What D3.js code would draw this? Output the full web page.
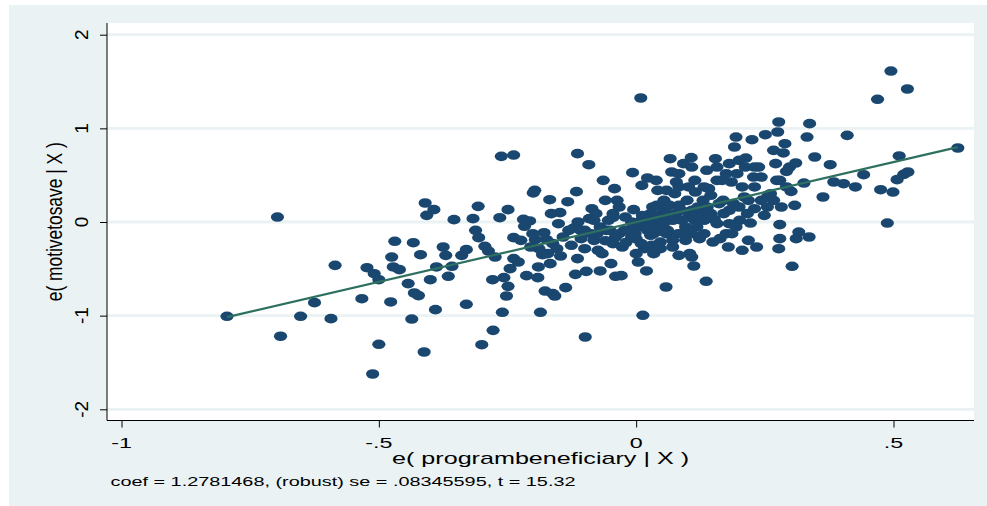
<!DOCTYPE html>
<html>
<head>
<meta charset="utf-8">
<script src="https://cdn.jsdelivr.net/npm/d3@7"></script>
<style>
  body { margin: 0; background: #ffffff; }
  text { font-family: "Liberation Sans", Arial, sans-serif; fill: #000; }
</style>
</head>
<body>
<div id="scatter"></div>
<script>
// residuals of programbeneficiary (x) and motivetosave (y)
var xVals = [
  -0.795, -0.697, -0.691, -0.652, -0.625, -0.593, -0.585, -0.533, -0.523, -0.509,
  -0.500, -0.500, -0.512, -0.475, -0.472, -0.460, -0.469, -0.477, -0.443, -0.433,
  -0.431, -0.423, -0.436, -0.419, -0.410, -0.407, -0.393, -0.412, -0.390, -0.400,
  -0.388, -0.375, -0.370, -0.365, -0.358, -0.354, -0.339, -0.330, -0.330, -0.317,
  -0.312, -0.307, -0.306, -0.294, -0.287, -0.279, -0.278, -0.300, -0.274, -0.265,
  -0.262, -0.238, -0.260, -0.257, -0.252, -0.249, -0.249, -0.245, -0.238, -0.238,
  -0.229, -0.224, -0.219, -0.217, -0.213, -0.207, -0.205, -0.200, -0.197, -0.196,
  -0.191, -0.190, -0.186, -0.182, -0.179, -0.177, -0.174, -0.168, -0.167, -0.165,
  -0.162, -0.158, -0.154, -0.151, -0.148, -0.147, -0.142, -0.137, -0.133, -0.131,
  -0.126, -0.121, -0.118, -0.116, -0.114, -0.114, -0.113, -0.108, -0.100, -0.099,
  -0.097, -0.092, -0.091, -0.086, -0.082, -0.078, -0.074, -0.070, -0.066, -0.064,
  -0.060, -0.058, -0.054, -0.049, -0.045, -0.042, -0.040, -0.037, -0.033, -0.029,
  -0.027, -0.023, -0.007, -0.005, -0.002, 0.000, 0.004, 0.009, 0.013, 0.011,
  0.016, 0.020, 0.022, 0.028, 0.032, 0.034, 0.039, 0.042, 0.047, 0.050,
  0.054, 0.058, 0.061, 0.064, 0.066, 0.069, 0.071, 0.075, 0.078, 0.082,
  0.083, 0.088, 0.092, 0.096, 0.099, 0.104, 0.107, 0.108, 0.112, 0.115,
  0.118, 0.123, 0.126, 0.130, 0.136, 0.137, 0.141, 0.145, 0.149, 0.152,
  0.154, 0.157, 0.161, 0.163, 0.167, 0.170, 0.175, 0.179, 0.181, 0.185,
  0.186, 0.189, 0.191, 0.194, 0.196, 0.201, 0.206, 0.210, 0.213, 0.216,
  0.218, 0.222, 0.225, 0.228, 0.230, 0.234, 0.238, 0.243, 0.249, 0.251,
  0.255, 0.261, 0.267, 0.271, 0.275, 0.277, 0.279, 0.277, 0.279, 0.279,
  0.282, 0.286, 0.289, 0.292, 0.298, 0.301, 0.303, 0.308, 0.310, 0.311,
  0.316, 0.326, 0.332, 0.337, 0.336, 0.347, 0.363, 0.377, 0.384, 0.403,
  0.410, 0.426, 0.442, 0.469, 0.475, 0.488, 0.495, 0.499, 0.507, 0.511,
  0.520, 0.527, 0.528, 0.625,
  -0.015, -0.009, 0.004, 0.010, 0.022, 0.028, 0.040, 0.044, 0.053, 0.056,
  0.065, 0.071, 0.077, 0.083, 0.089, 0.093, 0.102, 0.108, 0.114, 0.120,
  0.123, 0.132, 0.138, 0.145, 0.028, 0.040, 0.059, 0.071, 0.096, 0.047,
  0.034, 0.010, -0.009, -0.021, -0.045, -0.051, -0.076, -0.070, -0.088, -0.100,
  -0.107, -0.082, -0.033, 0.169, 0.181, 0.200, 0.218, 0.206, 0.230, 0.243,
  0.255, 0.157, 0.181, 0.194, 0.132, 0.108, 0.267, 0.273, 0.292, 0.230,
  0.175, 0.200, 0.212, 0.157, 0.114, 0.102, 0.083, 0.059, 0.083, 0.108,
  0.132, -0.189, -0.172, -0.162, -0.201,
  -0.040, -0.020, 0.000, 0.030, -0.060, 0.050, 0.020, -0.045, 0.012
];
var yVals = [
  -1.007, 0.053, -1.220, -1.007, -0.861, -1.032, -0.463, -0.819, -0.488, -0.552,
  -0.616, -1.306, -1.623, -0.374, -0.480, -0.509, -0.206, -0.854, -0.658, -0.221,
  -0.758, -0.786, -1.036, -0.349, 0.203, 0.071, 0.132, -1.388, -0.936, -0.616,
  -0.480, -0.267, -0.356, -0.580, -0.473, 0.025, -0.356, -0.295, -0.879, 0.036,
  -0.089, 0.167, -0.167, -0.260, -0.310, -0.616, -1.157, -1.310, -0.374, 0.046,
  0.701, 0.715, -0.964, -0.594, -0.790, -0.687, 0.132, -0.498, -0.167, -0.391,
  -0.427, -0.196, 0.028, -0.046, -0.573, 0.011, -0.267, 0.310, 0.338, -0.189,
  -0.594, -0.480, -0.964, -0.349, -0.114, -0.737, -0.189, 0.238, -0.445, 0.089,
  -0.765, -0.790, -0.285, -0.018, 0.100, -0.363, -0.160, -0.701, 0.217, -0.089,
  -0.249, -0.064, -0.559, 0.324, 0.730, -0.391, 0.000, -0.089, -0.285, -1.228,
  -0.527, 0.612, 0.036, 0.142, -0.196, 0.089, -0.302, -0.523, -0.338, 0.445,
  0.231, -0.089, 0.018, -0.445, -0.231, 0.356, -0.580, 0.231, -0.125, -0.573,
  -0.267, -0.089, 0.527, 0.132, -0.125, -0.338, -0.427, 1.324, -0.996, 0.391,
  -0.285, -0.523, 0.470, 0.000, 0.160, -0.125, 0.445, 0.338, -0.214, 0.089,
  0.231, -0.694, -0.089, 0.053, 0.676, 0.534, -0.267, 0.302, 0.427, -0.125,
  -0.356, 0.125, 0.623, -0.053, 0.231, -0.338, 0.687, -0.374, -0.470, 0.320,
  -0.053, -0.178, 0.089, 0.231, -0.633, 0.552, 0.356, 0.285, -0.214, 0.025,
  0.676, 0.445, 0.196, -0.178, 0.445, 0.089, -0.125, -0.267, 0.623, 0.427,
  -0.125, 0.196, 0.801, 0.907, 0.516, 0.018, -0.302, 0.267, 0.683, 0.089,
  -0.196, -0.011, 0.879, 0.480, 0.142, -0.267, 0.587, 0.480, 0.071, 0.932,
  0.267, 0.302, 0.765, 0.623, 0.961, 1.068, 0.445, -0.285, -0.028, -0.178,
  0.160, 0.737, 0.836, 0.541, 0.587, 0.327, -0.473, 0.178, 0.630, -0.178,
  -0.107, 0.416, 0.907, 1.050, -0.160, 0.694, 0.267, 0.612, 0.427, 0.409,
  0.925, 0.374, 0.505, 1.310, 0.345, -0.011, 1.612, 0.320, 0.452, 0.705,
  0.509, 1.420, 0.534, 0.790,
  -0.089, -0.160, -0.053, 0.018, -0.089, -0.142, -0.053, 0.018, -0.018, 0.125,
  0.178, 0.018, 0.089, 0.178, 0.018, -0.125, 0.053, 0.125, 0.018, 0.160,
  0.053, 0.018, 0.160, 0.089, 0.089, 0.178, -0.125, -0.196, -0.196, -0.285,
  -0.338, -0.231, 0.000, 0.053, 0.089, -0.089, -0.125, -0.053, -0.125, -0.089,
  -0.178, 0.018, 0.160, 0.231, 0.125, 0.160, 0.231, 0.374, 0.374, 0.231,
  0.160, -0.018, -0.018, -0.053, -0.125, -0.125, 0.231, 0.445, 0.374, 0.587,
  0.516, 0.658, 0.587, 0.587, 0.445, 0.374, 0.374, 0.338, 0.516, 0.587,
  0.374, -0.285, -0.338, -0.231, -0.125,
  -0.160, -0.220, -0.180, -0.250, -0.200, -0.100, -0.050, 0.050, 0.070
];

var xTicks = [-1, -0.5, 0, 0.5];
var xTickLabels = ["-1", "-.5", "0", ".5"];
var yTicks = [-2, -1, 0, 1, 2];
var yTickLabels = ["-2", "-1", "0", "1", "2"];

var coef = 1.2781468;
var xTitle = "e( programbeneficiary | X )";
var yTitle = "e( motivetosave | X )";
var note = "coef = 1.2781468, (robust) se = .08345595, t = 15.32";

var svgWidth = 987;
var svgHeight = 506;

// plot region (white box)
var plot = { left: 107, right: 974, top: 23, bottom: 420.5 };

var svg = d3.select("#scatter")
  .append("svg")
  .attr("width", svgWidth)
  .attr("height", svgHeight);

// outer graph region
svg.append("rect")
  .attr("x", 9).attr("y", 5)
  .attr("width", svgWidth - 9).attr("height", svgHeight - 5)
  .attr("fill", "#eaf2f3");

svg.append("rect")
  .attr("x", plot.left).attr("y", plot.top)
  .attr("width", plot.right - plot.left).attr("height", plot.bottom - plot.top)
  .attr("fill", "#ffffff");

// scales
var xScale = d3.scaleLinear().domain([-1, 0.5]).range([121.5, 893.5]);
var yScale = d3.scaleLinear().domain([-2, 2]).range([409.3, 34.7]);

// grid lines
svg.append("g").selectAll("line")
  .data(yTicks)
  .enter()
  .append("line")
  .attr("x1", plot.left).attr("x2", plot.right)
  .attr("y1", d => yScale(d)).attr("y2", d => yScale(d))
  .attr("stroke", "#eaf2f3")
  .attr("stroke-width", 2.8);

// axes
var leftAxis = d3.axisLeft(yScale).tickValues(yTicks).tickSize(7).tickFormat("");
var bottomAxis = d3.axisBottom(xScale).tickValues(xTicks).tickSize(7).tickFormat("");

var yAxisG = svg.append("g")
  .attr("transform", `translate(${plot.left}, 0)`)
  .call(leftAxis);
yAxisG.select(".domain")
  .attr("d", `M0,${plot.top}V${plot.bottom}`);

var xAxisG = svg.append("g")
  .attr("transform", `translate(0, ${plot.bottom})`)
  .call(bottomAxis);
xAxisG.select(".domain")
  .attr("d", `M${plot.left},0H${plot.right}`);

svg.selectAll(".domain, .tick line")
  .attr("stroke", "#000")
  .attr("stroke-width", 1);

// tick labels (y ones rotated like stata)
svg.append("g").selectAll("text")
  .data(yTicks)
  .enter()
  .append("text")
  .attr("transform", (d, i) => `translate(88, ${yScale(d)}) rotate(-90)`)
  .attr("text-anchor", "middle")
  .attr("font-size", 19)
  .text((d, i) => yTickLabels[i]);

svg.append("g").selectAll("text")
  .data(xTicks)
  .enter()
  .append("text")
  .attr("transform", d => `translate(${xScale(d)}, 447.5) scale(1.55, 1)`)
  .attr("text-anchor", "middle")
  .attr("font-size", 15)
  .text((d, i) => xTickLabels[i]);

var xExt = d3.extent(xVals);

// points
var points = xVals.map((x, i) => ({ x: x, y: yVals[i] }));
svg.append("g").selectAll("ellipse")
  .data(points)
  .enter()
  .append("ellipse")
  .attr("cx", d => xScale(d.x))
  .attr("cy", d => yScale(d.y))
  .attr("rx", 6.6)
  .attr("ry", 4.8)
  .attr("fill", "#1a476f");

// fitted line, drawn on top of the markers
svg.append("line")
  .attr("x1", xScale(xExt[0])).attr("y1", yScale(coef * xExt[0]))
  .attr("x2", xScale(xExt[1])).attr("y2", yScale(coef * xExt[1]))
  .attr("stroke", "#2e705f")
  .attr("stroke-width", 2.2);

// titles
svg.append("text")
  .attr("x", (plot.left + plot.right) / 2)
  .attr("y", 464)
  .attr("text-anchor", "middle")
  .attr("font-size", 17)
  .attr("textLength", 297)
  .attr("lengthAdjust", "spacingAndGlyphs")
  .text(xTitle);

svg.append("text")
  .attr("transform", `translate(62, ${(plot.top + plot.bottom) / 2}) scale(1.25, 1) rotate(-90)`)
  .attr("text-anchor", "middle")
  .attr("font-size", 17)
  .attr("textLength", 159)
  .attr("lengthAdjust", "spacingAndGlyphs")
  .text(yTitle);

svg.append("text")
  .attr("x", 110.5)
  .attr("y", 485.5)
  .attr("font-size", 12.5)
  .attr("textLength", 465)
  .attr("lengthAdjust", "spacingAndGlyphs")
  .text(note);
</script>
</body>
</html>
